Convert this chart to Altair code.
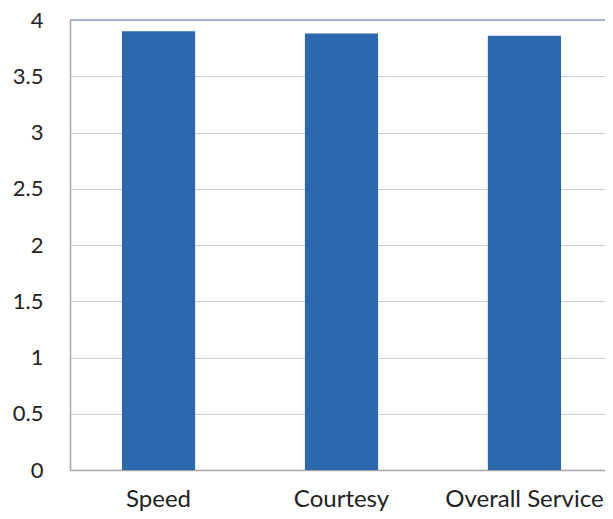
import altair as alt
import pandas as pd

categories = ["Speed", "Courtesy", "Overall Service"]
values = [3.90, 3.88, 3.86]
y_ticks = [0, 0.5, 1, 1.5, 2, 2.5, 3, 3.5, 4]

df = pd.DataFrame({"category": categories, "value": values})

bars = alt.Chart(df).mark_bar(color="#2d68ae").encode(
    x=alt.X("category:N", sort=categories, title=None,
            scale=alt.Scale(paddingInner=0.6, paddingOuter=0.284, range=[0, 543]),
            axis=alt.Axis(labelAngle=0, labelFontSize=24, labelFont="Lato",
                          labelColor="#222222", ticks=False, labelPadding=36,
                          labelBaseline="alphabetic",
                          domainColor="#a6a6a6", domainWidth=1.5, grid=False)),
    y=alt.Y("value:Q", title=None,
            scale=alt.Scale(domain=[0, 4], nice=False),
            axis=alt.Axis(values=y_ticks, labelExpr="datum.value", labelFontSize=22,
                          labelFont="Lato", labelColor="#222222", ticks=False,
                          labelPadding=27, domainColor="#a6a6a6", domainWidth=1.5,
                          gridColor="#d0d0d0", gridWidth=1.2)),
)

top_df = pd.DataFrame({"v": [4]})
top_rule = alt.Chart(top_df).mark_rule(color="#8ea5c8", strokeWidth=1.5).encode(y="v:Q")

chart = alt.layer(bars, top_rule).properties(
    width=535, height=450,
    autosize=alt.AutoSizeParams(type="none"),
    padding={"left": 62, "top": 12, "right": 0, "bottom": 41},
).configure_view(stroke=None).configure(background="white")

chart.save("out.html", embed_options={"renderer": "svg", "actions": False})
